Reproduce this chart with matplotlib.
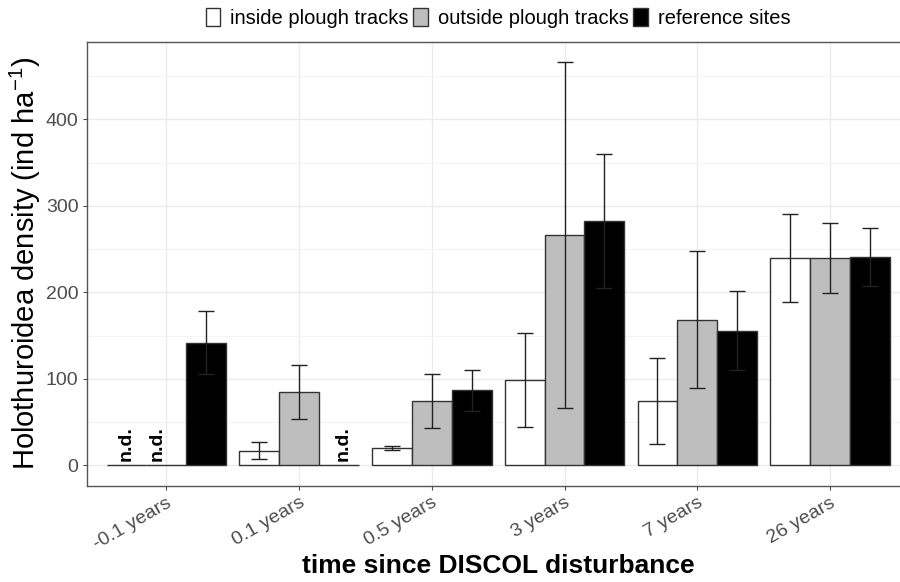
import numpy as np
import matplotlib
matplotlib.use('Agg')
import matplotlib.pyplot as plt
from matplotlib.patches import Patch

plt.rcParams['font.family'] = ['Liberation Sans', 'DejaVu Sans']
plt.rcParams['mathtext.fontset'] = 'custom'
plt.rcParams['mathtext.rm'] = 'Liberation Sans'
plt.rcParams['mathtext.it'] = 'Liberation Sans'

# categories and series
times = ['-0.1 years', '0.1 years', '0.5 years', '3 years', '7 years', '26 years']
groups = ['inside plough tracks', 'outside plough tracks', 'reference sites']
colors = ['white', '#BEBEBE', 'black']

inside = [0, 17.2, 20.2, 98.6, 74.6, 239.6]
inside_err = [np.nan, 10.0, 2.0, 54.1, 49.9, 51.2]
outside = [0, 85.0, 74.5, 266.0, 168.5, 239.5]
outside_err = [np.nan, 30.8, 31.2, 200.0, 79.5, 40.7]
reference = [141.9, 0, 86.9, 282.5, 155.8, 240.5]
reference_err = [36.6, np.nan, 23.4, 77.4, 45.5, 33.5]

# which bars are "n.d." (not determined)
nd = [[True, False, False, False, False, False],
      [True, False, False, False, False, False],
      [False, True, False, False, False, False]]
nd_shift = [[0, 0, 0, 0, 0, 0],
            [-0.07, 0, 0, 0, 0, 0],
            [0, 0.03, 0, 0, 0, 0]]

values = [inside, outside, reference]
errors = [inside_err, outside_err, reference_err]

fig = plt.figure(figsize=(9, 5.82), dpi=100)
ax = fig.add_axes([86.7 / 900, 96 / 582, 822.9 / 900, 444.3 / 582])

x = np.arange(1, len(times) + 1)
w = 0.3
for i in range(3):
    xs = x + (i - 1) * w
    ax.bar(xs, values[i], width=w, color=colors[i], edgecolor='#333333',
           linewidth=1.0, zorder=3)
    err = np.array(errors[i], dtype=float)
    ok = ~np.isnan(err)
    ax.errorbar(xs[ok], np.array(values[i])[ok], yerr=err[ok], fmt='none',
                ecolor='#222222', elinewidth=1.0, capsize=6.1, capthick=1.0,
                zorder=4)
    for j in range(len(times)):
        if nd[i][j]:
            ax.text(xs[j] + nd_shift[i][j], 5, 'n.d.', rotation=90, ha='center',
                    va='bottom', fontsize=14, fontweight='bold', zorder=5)

ax.set_xlim(0.4, 6.6)
ax.set_ylim(-23.7, 489.7)
ax.set_xticks(x)
ax.set_xticklabels(times, rotation=30, ha='right', va='top',
                   rotation_mode='anchor')
ax.set_yticks([0, 100, 200, 300, 400])
ax.set_yticks([50, 150, 250, 350, 450], minor=True)
ax.tick_params(axis='both', which='major', labelsize=14, labelcolor='#4D4D4D',
               color='#4D4D4D', length=3, width=0.8, pad=3)
ax.tick_params(axis='y', which='minor', length=0)
ax.grid(which='major', color='#EBEBEB', linewidth=1.0, zorder=0)
ax.grid(which='minor', axis='y', color='#F3F3F3', linewidth=0.6, zorder=0)
ax.set_axisbelow(True)
for s in ax.spines.values():
    s.set_color('#555555')
    s.set_linewidth(1.0)

ax.set_ylabel('Holothuroidea density (ind ha$^{-1}$)', fontsize=21,
              labelpad=2)
ax.set_xlabel('time since DISCOL disturbance', fontsize=19,
              fontweight='bold', labelpad=1)

handles = [Patch(facecolor=c, edgecolor='#333333', linewidth=1.0) for c in colors]
fig.legend(handles, groups, loc='center', bbox_to_anchor=(498 / 900, 1 - 18 / 582),
           ncol=3, frameon=False, fontsize=14.5, handlelength=0.7,
           handleheight=0.95, handletextpad=0.5, columnspacing=0.25)

fig.savefig('out.png', dpi=100)
